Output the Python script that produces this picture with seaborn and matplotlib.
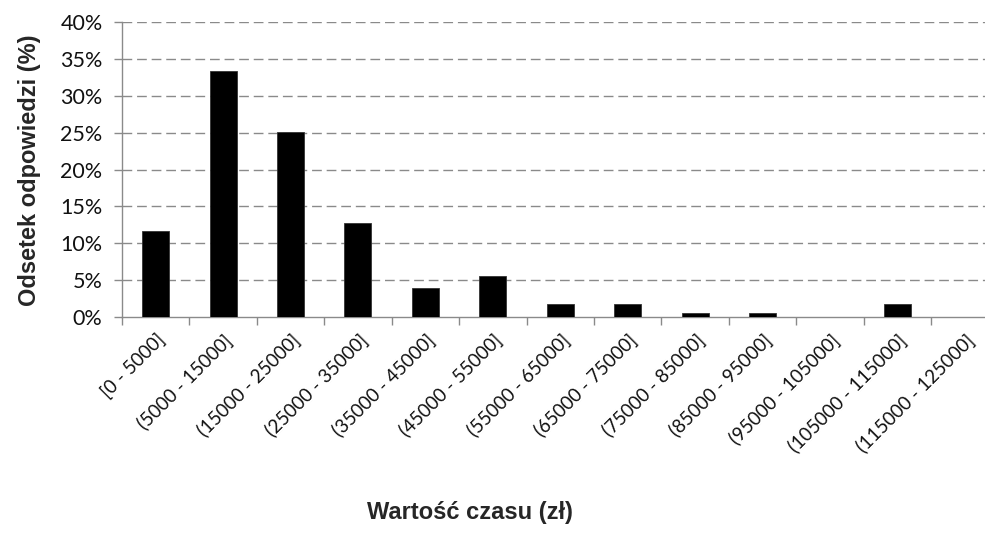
import matplotlib
matplotlib.use("Agg")
import matplotlib.pyplot as plt
import seaborn as sns
import pandas as pd
import numpy as np
from matplotlib.ticker import FixedLocator, PercentFormatter

categories = ["[0 - 5000]", "(5000 - 15000]", "(15000 - 25000]", "(25000 - 35000]",
              "(35000 - 45000]", "(45000 - 55000]", "(55000 - 65000]", "(65000 - 75000]",
              "(75000 - 85000]", "(85000 - 95000]", "(95000 - 105000]", "(105000 - 115000]",
              "(115000 - 125000]"]
values = [11.7, 33.4, 25.1, 12.8, 3.9, 5.6, 1.7, 1.7, 0.55, 0.55, 0.0, 1.7, 0.0]
y_ticks = [0, 5, 10, 15, 20, 25, 30, 35, 40]

df = pd.DataFrame({"cat": categories, "val": values})

sns.set_theme(style="white")
plt.rcParams['font.family'] = ['Lato', 'DejaVu Sans']

fig = plt.figure(figsize=(9.85, 5.33), dpi=100)
ax = fig.add_axes([122/985, 1 - 317/533, 1 - 122/985, (317 - 22)/533])

sns.barplot(data=df, x="cat", y="val", color="black", width=0.4, ax=ax,
            edgecolor="#333333", linewidth=0.6, saturation=1, zorder=3)

ax.set_ylim(0, 40)
ax.set_xlim(-0.5, 12.3)
ax.yaxis.set_major_locator(FixedLocator(y_ticks))
ax.yaxis.set_major_formatter(PercentFormatter(decimals=0))
for y in y_ticks[1:]:
    ax.axhline(y, color="#8a8a8a", lw=1.0, ls=(0, (7, 3.5)), zorder=1)

ax.set_xticks(range(len(categories)))
ax.set_xticklabels(categories, rotation=45, ha="right", rotation_mode="anchor",
                   fontsize=13.5, color="#111111")
ax.xaxis.set_minor_locator(FixedLocator(np.arange(-0.5, len(categories), 1.0)))
ax.tick_params(axis="x", which="major", length=0, pad=10)
ax.tick_params(axis="x", which="minor", length=6, color="#8a8a8a", width=1, direction="out", bottom=True)
ax.tick_params(axis="y", which="major", length=6, color="#8a8a8a", width=1, direction="out",
               left=True, labelsize=15.5, pad=8, labelcolor="#111111")

for s in ["top", "right"]:
    ax.spines[s].set_visible(False)
for s in ["left", "bottom"]:
    ax.spines[s].set_color("#8a8a8a")
    ax.spines[s].set_linewidth(1.0)

ax.set_xlabel("")
ax.set_ylabel("")
fig.text(470/985, 1 - 512/533, "Wartość czasu (zł)", ha="center", va="center",
         fontsize=17, fontweight="bold", family=["Liberation Sans", "DejaVu Sans"])
fig.text(30/985, 1 - 170/533, "Odsetek odpowiedzi (%)", ha="center", va="center", rotation=90,
         fontsize=17, fontweight="bold", family=["Liberation Sans", "DejaVu Sans"])

fig.savefig("out.png", dpi=100)
